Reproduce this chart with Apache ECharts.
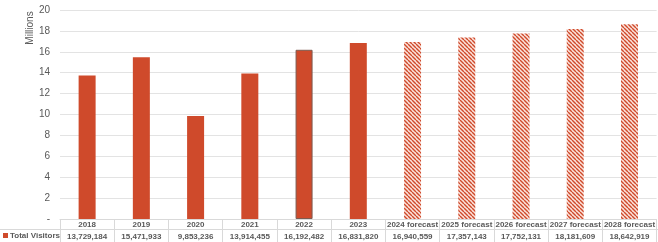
<!DOCTYPE html>
<html><head><meta charset="utf-8">
<script src="https://cdn.jsdelivr.net/npm/echarts@6/dist/echarts.min.js"></script>
<style>html,body{margin:0;padding:0;background:#fff}#c{width:658px;height:242px}</style>
</head><body><div id="c"></div>
<script>
const categories = ['2018','2019','2020','2021','2022','2023','2024 forecast','2025 forecast','2026 forecast','2027 forecast','2028 forecast'];
const visitors = [13729184,15471933,9853236,13914455,16192482,16831820,16940559,17357143,17752131,18181609,18642919];
const forecastFlags = [false,false,false,false,false,false,true,true,true,true,true];
const seriesName = 'Total Visitors';
const yTicks = { min: 0, max: 20, interval: 2 };

const RED = '#CF4A2B';
function makePattern(){
  const c = document.createElement('canvas');
  c.width = 4; c.height = 4;
  const g = c.getContext('2d');
  g.fillStyle = '#fbe3dc'; g.fillRect(0,0,4,4);
  g.strokeStyle = RED; g.lineWidth = 1.4;
  for (let k=-4;k<=4;k+=4){ g.beginPath(); g.moveTo(k,0); g.lineTo(k+4,4); g.stroke(); }
  return c;
}
const pattern = { image: makePattern(), repeat: 'repeat' };
const fmt = n => n.toLocaleString('en-US');

const data = visitors.map((v,i)=>{
  const d = { value: v/1e6 };
  if (forecastFlags[i]) d.itemStyle = { color: pattern };
  else if (i===4) d.itemStyle = { color: RED, borderColor: '#7d5b50', borderWidth: 1 };
  return d;
});

const chart = echarts.init(document.getElementById('c'), null, {renderer:'canvas'});
const font = 'Liberation Sans, Arial, sans-serif';
chart.setOption({
  animation: false,
  grid: { left: 60, right: 0, top: 10, bottom: 23 },
  xAxis: {
    type: 'category', data: categories,
    axisLine: { lineStyle: { color: '#d9d9d9', width: 1 } },
    axisTick: { show: true, interval: 0, length: 23, lineStyle: { color: '#d9d9d9' } },
    axisLabel: {
      interval: 0, margin: 0,
      formatter: (val, idx) => '{h|' + val + '}\n{v|' + fmt(visitors[idx]) + '}',
      rich: {
        h: { fontSize: 8, fontWeight: 'bold', color: '#595959', fontFamily: font, lineHeight: 11 },
        v: { fontSize: 8, fontWeight: 'bold', color: '#595959', fontFamily: font, lineHeight: 13 }
      }
    }
  },
  yAxis: {
    type: 'value', min: yTicks.min, max: yTicks.max, interval: yTicks.interval,
    axisLine: { show: false }, axisTick: { show: false },
    splitLine: { lineStyle: { color: '#e3e3e3' } },
    axisLabel: { margin: 10, color: '#595959', fontSize: 10, fontFamily: font,
      formatter: v => v === 0 ? '-' : String(v) }
  },
  series: [{ name: seriesName, type: 'bar', data: data, barWidth: 17, itemStyle: { color: RED } }],
  graphic: [
    { type: 'text', x: 30, y: 28, rotation: Math.PI/2, style: { text: 'Millions', fontSize: 10, fontFamily: font, fill: '#595959', align: 'center', verticalAlign: 'middle' } },
    { type: 'line', shape: { x1: 0, y1: 229.5, x2: 658, y2: 229.5 }, style: { stroke: '#d9d9d9', lineWidth: 1 } },
    { type: 'rect', shape: { x: 3, y: 233, width: 5, height: 5 }, style: { fill: RED } },
    { type: 'text', x: 10, y: 236, style: { text: seriesName, fontSize: 8, fontWeight: 'bold', fontFamily: font, fill: '#595959', verticalAlign: 'middle' } }
  ]
});
</script></body></html>
